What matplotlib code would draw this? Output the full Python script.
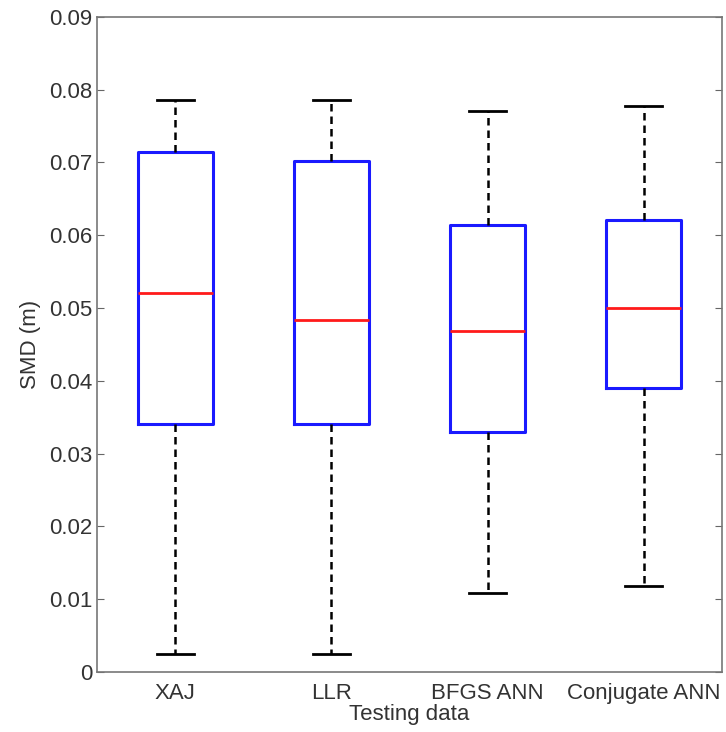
import matplotlib.pyplot as plt

plt.rcParams['font.family'] = ['Liberation Sans', 'DejaVu Sans']
plt.rcParams['text.color'] = '#333333'
plt.rcParams['axes.labelcolor'] = '#333333'
plt.rcParams['xtick.labelcolor'] = '#333333'
plt.rcParams['ytick.labelcolor'] = '#333333'

labels = ["XAJ", "LLR", "BFGS ANN", "Conjugate ANN"]
whislo = [0.0025, 0.0025, 0.0108, 0.0118]
q1 = [0.0340, 0.0341, 0.0329, 0.0390]
med = [0.0520, 0.0484, 0.0468, 0.0500]
q3 = [0.0714, 0.0702, 0.0614, 0.0621]
whishi = [0.0786, 0.0786, 0.0770, 0.0777]

stats = []
for i in range(len(labels)):
    stats.append({"label": labels[i], "whislo": whislo[i], "q1": q1[i], "med": med[i],
                  "q3": q3[i], "whishi": whishi[i], "fliers": []})

fig = plt.figure(figsize=(7.26, 7.32), dpi=100)
ax = fig.add_axes([0.134, 0.082, 0.86, 0.895])

ax.bxp(stats, widths=0.48, showfliers=False,
       boxprops=dict(color="#1a1aff", linewidth=2.2),
       medianprops=dict(color="#ff1a1a", linewidth=2.0),
       whiskerprops=dict(color="black", linewidth=1.8, linestyle=(0, (3, 2))),
       capprops=dict(color="black", linewidth=2.0), capwidths=0.24)

ax.set_xlim(0.5, 4.5)
ax.set_ylim(0, 0.09)
ax.set_yticks([0, 0.01, 0.02, 0.03, 0.04, 0.05, 0.06, 0.07, 0.08, 0.09])
ax.set_yticklabels(["0", "0.01", "0.02", "0.03", "0.04", "0.05", "0.06", "0.07", "0.08", "0.09"])
ax.tick_params(axis="y", direction="in", right=True, length=5, color="#666666", labelsize=16)
ax.tick_params(axis="x", length=0, labelsize=16, pad=8)
for s in ax.spines.values():
    s.set_color("#777777")
    s.set_linewidth(1.2)

ax.set_xlabel("Testing data", fontsize=16, labelpad=0)
ax.set_ylabel("SMD (m)", fontsize=16, labelpad=6)

plt.savefig("out.png")
